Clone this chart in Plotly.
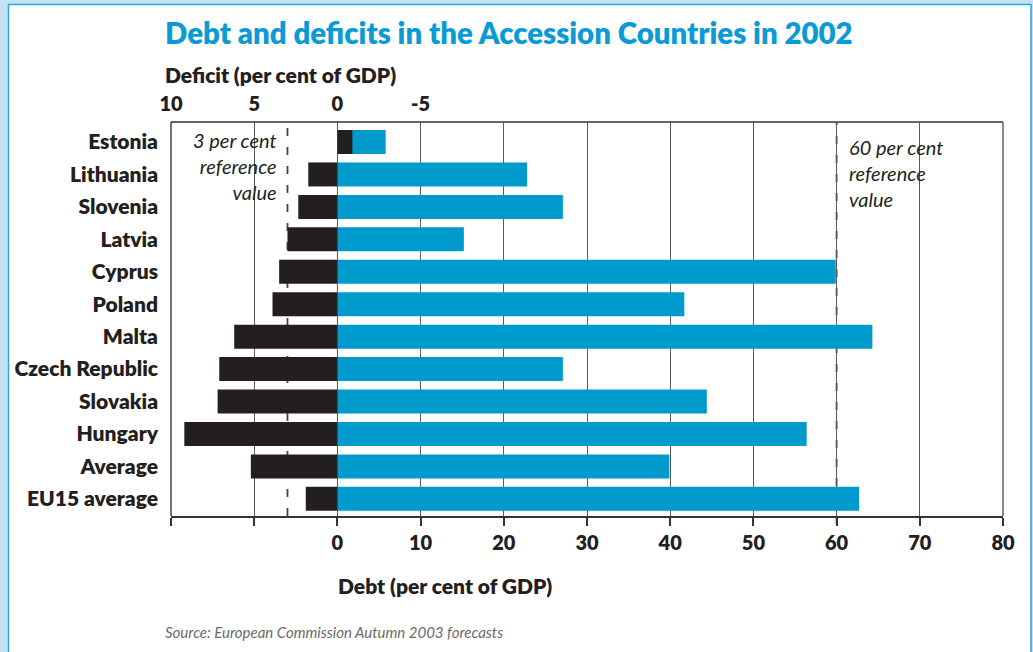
import plotly.graph_objects as go

# Data: 2002 figures, per cent of GDP
countries = ["Estonia", "Lithuania", "Slovenia", "Latvia", "Cyprus", "Poland",
             "Malta", "Czech Republic", "Slovakia", "Hungary", "Average", "EU15 average"]
deficit = [-0.9, 1.75, 2.35, 3.0, 3.5, 3.9, 6.2, 7.1, 7.2, 9.2, 5.2, 1.9]
debt = [5.8, 22.8, 27.1, 15.2, 59.9, 41.7, 64.3, 27.1, 44.4, 56.4, 39.9, 62.7]

debt_ticks = [-20, -10, 0, 10, 20, 30, 40, 50, 60, 70, 80]
debt_ticktext = ["", "", "0", "10", "20", "30", "40", "50", "60", "70", "80"]
deficit_ticks = [10, 5, 0, -5]
deficit_ticktext = ["10", "5", "0", "-5"]

deficit_ref = 3
debt_ref = 60
deficit_note = "3 per cent<br>reference<br>value"
debt_note = "60 per cent<br>reference<br>value"

BLUE = "#009acd"
DARK = "#231f20"
FONT = "Lato"
HEAVY = 800

# figure geometry (pixels)
W, H = 1033, 652
ML, MR, MT, MB = 171, 30, 122, 136
PW, PH = W - ML - MR, H - MT - MB


def px(xp):
    return (xp - ML) / PW


def py(yp):
    return (H - MB - yp) / PH


fig = go.Figure()

fig.add_trace(go.Bar(
    y=countries, x=debt, orientation="h", marker=dict(color=BLUE, line=dict(width=0)),
    xaxis="x", yaxis="y", hoverinfo="x+y", showlegend=False,
))
fig.add_trace(go.Bar(
    y=countries, x=deficit, orientation="h", marker=dict(color=DARK, line=dict(width=0)),
    xaxis="x2", yaxis="y", hoverinfo="x+y", showlegend=False,
))

dash_line = dict(color="#444444", width=1.8, dash="8px,11px")
shapes = []
# outer card with blue border
shapes.append(dict(type="rect", xref="paper", yref="paper",
                   x0=px(8.5), x1=px(1031), y0=py(4.5), y1=py(670),
                   fillcolor="white", line=dict(color="#27a6de", width=1.5), layer="below"))
# reference lines
shapes.append(dict(type="line", xref="x2", yref="paper", x0=deficit_ref, x1=deficit_ref,
                   y0=0, y1=1, line=dash_line, layer="below"))
shapes.append(dict(type="line", xref="x", yref="paper", x0=debt_ref, x1=debt_ref,
                   y0=py(524), y1=1, line=dash_line, layer="below"))
# frame: left, top, right
shapes.append(dict(type="line", xref="paper", yref="paper", x0=0, x1=0, y0=0, y1=1,
                   line=dict(color="#444", width=1.5), layer="below"))
shapes.append(dict(type="line", xref="paper", yref="paper", x0=0, x1=1, y0=1, y1=1,
                   line=dict(color="#333", width=1.5), layer="below"))
shapes.append(dict(type="line", xref="paper", yref="paper", x0=1, x1=1, y0=0, y1=1,
                   line=dict(color="#8a8a8a", width=2), layer="below"))

annotations = [
    dict(text="Debt and deficits in the Accession Countries in 2002",
         xref="paper", yref="paper", x=px(163), y=py(32), xanchor="left", yanchor="middle",
         showarrow=False, font=dict(family=FONT, size=29.4, color="#0a9bd6", weight=HEAVY)),
    dict(text="Deficit (per cent of GDP)",
         xref="paper", yref="paper", x=px(163), y=py(75), xanchor="left", yanchor="middle",
         showarrow=False, font=dict(family=FONT, size=21, color=DARK, weight=HEAVY)),
    dict(text="Debt (per cent of GDP)",
         xref="paper", yref="paper", x=px(445), y=py(585), xanchor="center", yanchor="middle",
         showarrow=False, font=dict(family=FONT, size=21, color=DARK, weight=HEAVY)),
    dict(text="<i>Source: European Commission Autumn 2003 forecasts</i>",
         xref="paper", yref="paper", x=px(163), y=py(632), xanchor="left", yanchor="middle",
         showarrow=False, font=dict(family=FONT, size=15, color="#6a6a6a")),
    dict(text=f"<i>{deficit_note}</i>", xref="paper", yref="paper", x=px(279), y=py(166),
         xanchor="right", yanchor="middle", align="right", showarrow=False,
         font=dict(family=FONT, size=20, color=DARK)),
    dict(text=f"<i>{debt_note}</i>", xref="paper", yref="paper", x=px(847), y=py(173),
         xanchor="left", yanchor="middle", align="left", showarrow=False,
         font=dict(family=FONT, size=20, color=DARK)),
]

fig.update_layout(
    width=W, height=H,
    margin=dict(l=ML, r=MR, t=MT, b=MB),
    paper_bgcolor="#c4e2f4",
    plot_bgcolor="rgba(0,0,0,0)",
    barmode="overlay",
    bargap=0.26,
    font=dict(family=FONT, color=DARK),
    shapes=shapes,
    annotations=annotations,
    xaxis=dict(
        range=[-20, 80], tickvals=debt_ticks, ticktext=debt_ticktext,
        showgrid=True, gridcolor="#5a5a5a", gridwidth=1.3,
        zeroline=False, showline=True, linecolor="#333", linewidth=2,
        ticks="outside", ticklen=8, tickwidth=1.5, tickcolor="#333",
        tickfont=dict(family=FONT, size=20, color=DARK, weight=HEAVY),
        fixedrange=True,
    ),
    xaxis2=dict(
        range=[10, -40], overlaying="x", side="top", anchor="y",
        tickvals=deficit_ticks, ticktext=deficit_ticktext,
        showgrid=False, zeroline=False, showline=False, ticks="",
        tickfont=dict(family=FONT, size=20, color=DARK, weight=HEAVY),
        ticklabelstandoff=6, fixedrange=True,
    ),
    yaxis=dict(
        type="category", categoryorder="array", categoryarray=countries,
        range=[11.528, -0.617], showgrid=False, zeroline=False, showline=False,
        ticks="", ticklabelstandoff=12,
        tickfont=dict(family=FONT, size=21, color=DARK, weight=HEAVY),
        fixedrange=True,
    ),
)

fig.write_html("out.html")
